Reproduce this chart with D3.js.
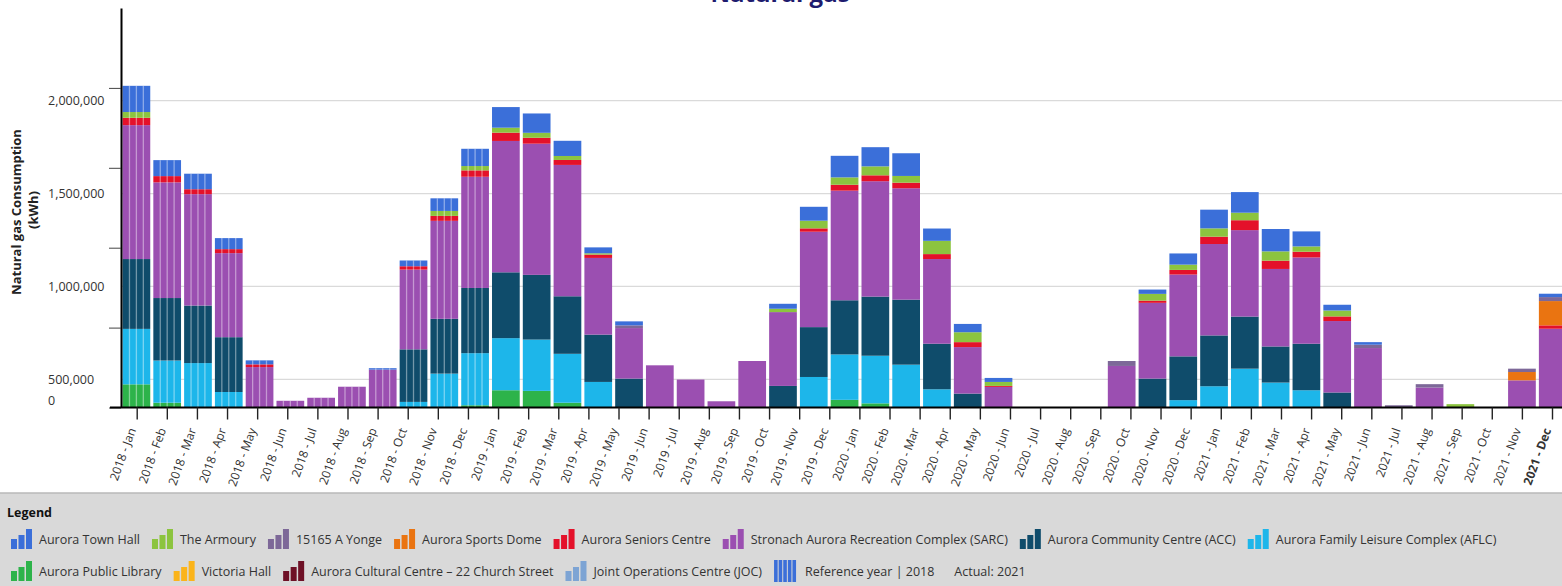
<!DOCTYPE html>
<html>
<head>
<meta charset="utf-8">
<script src="https://cdn.jsdelivr.net/npm/d3@7"></script>
<style>
  html, body { margin: 0; padding: 0; background: #ffffff; overflow: hidden; }
  svg { display: block; font-family: "Open Sans", "Noto Sans", sans-serif; }
</style>
</head>
<body>
<svg id="chart" width="1562" height="586"></svg>
<script>
// ---------------- DATA ----------------
const months = [
  "2018 - Jan","2018 - Feb","2018 - Mar","2018 - Apr","2018 - May","2018 - Jun","2018 - Jul","2018 - Aug","2018 - Sep","2018 - Oct","2018 - Nov","2018 - Dec",
  "2019 - Jan","2019 - Feb","2019 - Mar","2019 - Apr","2019 - May","2019 - Jun","2019 - Jul","2019 - Aug","2019 - Sep","2019 - Oct","2019 - Nov","2019 - Dec",
  "2020 - Jan","2020 - Feb","2020 - Mar","2020 - Apr","2020 - May","2020 - Jun","2020 - Jul","2020 - Aug","2020 - Sep","2020 - Oct","2020 - Nov","2020 - Dec",
  "2021 - Jan","2021 - Feb","2021 - Mar","2021 - Apr","2021 - May","2021 - Jun","2021 - Jul","2021 - Aug","2021 - Sep","2021 - Oct","2021 - Nov","2021 - Dec"
];
const referenceYear = "2018";
const currentLabel = "2021 - Dec";

// kWh per facility, Jan 2018 .. Nov 2021 (Dec 2021 bar lies outside the visible frame)
const auroraTownHall = [164000,100000,97000,69000,25000,0,0,0,9000,36000,79000,108000,
  129000,121000,95000,37000,25000,0,0,0,0,31000,87000,135000,
  120000,142000,77000,52000,25000,0,0,0,0,27000,70000,117000,
  129000,140000,94000,36000,16000,0,0,0,0,0,21000];
const theArmoury = [36000,0,0,0,0,0,0,0,0,0,31000,27000,
  31000,31000,25000,8000,0,0,0,0,0,21000,48000,46000,
  56000,42000,83000,62000,25000,0,0,0,0,42000,33000,52000,
  47000,58000,33000,37000,0,0,0,21000,0,0,0];
const yonge15165 = [0,0,0,0,0,0,0,0,0,0,0,0,
  0,0,0,0,17000,0,0,0,0,0,0,0,
  0,0,0,0,0,0,0,0,31000,0,0,0,
  0,0,0,0,21000,14000,21000,0,0,21000,25000];
const sportsDome = [0,0,0,0,0,0,0,0,0,0,0,0,
  0,0,0,0,0,0,0,0,0,0,0,0,
  0,0,0,0,0,0,0,0,0,0,0,0,
  0,0,0,0,0,0,0,0,0,52000,152000];
const seniorsCentre = [46000,39000,31000,25000,17000,0,0,0,0,21000,31000,40000,
  52000,37000,31000,21000,0,0,0,0,0,0,21000,37000,
  37000,35000,31000,31000,6000,0,0,0,0,14000,29000,46000,
  62000,52000,36000,29000,0,0,0,0,0,0,21000];
const sarc = [838000,724000,697000,526000,253000,42000,61000,130000,237000,499000,613000,696000,
  822000,821000,822000,480000,316000,264000,175000,39000,291000,462000,597000,686000,
  722000,697000,530000,291000,129000,0,0,0,260000,474000,512000,572000,
  541000,485000,540000,447000,372000,0,125000,0,0,170000,493000];
const acc = [437000,391000,360000,343000,0,0,0,0,0,329000,343000,408000,
  412000,405000,360000,296000,181000,0,0,0,0,135000,312000,339000,
  370000,407000,285000,87000,0,0,0,0,0,181000,274000,318000,
  326000,226000,291000,94000,0,0,0,0,0,0,0];
const aflc = [347000,264000,278000,97000,0,0,0,0,0,35000,212000,326000,
  326000,321000,306000,160000,0,0,0,0,0,0,191000,284000,
  298000,268000,114000,0,0,0,0,0,0,0,46000,133000,
  243000,156000,108000,0,0,0,0,0,0,0,0];
const publicLibrary = [145000,30000,0,0,0,0,0,0,0,0,0,14000,
  108000,104000,30000,0,0,0,0,0,0,0,0,48000,
  26000,0,0,0,0,0,0,0,0,0,0,0,
  0,0,0,0,0,0,0,0,0,0,0];

const yTickValues = [0, 500000, 1000000, 1500000, 2000000];

// legend entries in the order shown
const legendRow1 = ["Aurora Town Hall","The Armoury","15165 A Yonge","Aurora Sports Dome","Aurora Seniors Centre","Stronach Aurora Recreation Complex (SARC)","Aurora Community Centre (ACC)","Aurora Family Leisure Complex (AFLC)"];
const legendRow2 = ["Aurora Public Library","Victoria Hall","Aurora Cultural Centre –  22 Church Street","Joint Operations Centre (JOC)"];
const colors = {
  "Aurora Town Hall": "#3b6fd9",
  "The Armoury": "#8cc43f",
  "15165 A Yonge": "#7d6898",
  "Aurora Sports Dome": "#ea7411",
  "Aurora Seniors Centre": "#e4112a",
  "Stronach Aurora Recreation Complex (SARC)": "#9b4fb1",
  "Aurora Community Centre (ACC)": "#0f4c6b",
  "Aurora Family Leisure Complex (AFLC)": "#1db6ea",
  "Aurora Public Library": "#2db34a",
  "Victoria Hall": "#fbb41a",
  "Aurora Cultural Centre –  22 Church Street": "#6e1026",
  "Joint Operations Centre (JOC)": "#7da4d4"
};

// stacking order bottom -> top
const stackSeries = [
  ["Aurora Public Library", publicLibrary],
  ["Aurora Family Leisure Complex (AFLC)", aflc],
  ["Aurora Community Centre (ACC)", acc],
  ["Stronach Aurora Recreation Complex (SARC)", sarc],
  ["Aurora Seniors Centre", seniorsCentre],
  ["Aurora Sports Dome", sportsDome],
  ["The Armoury", theArmoury],
  ["15165 A Yonge", yonge15165],
  ["Aurora Town Hall", auroraTownHall]
];

// ---------------- LAYOUT ----------------
const W = 1562, H = 586;
const plotLeft = 121, baseY = 407.5, topY = 8;
const svg = d3.select("#chart");

const table = sarc.map((_, i) => {
  const row = { month: months[i] };
  stackSeries.forEach(([name, arr]) => row[name] = arr[i]);
  return row;
});
const keys = stackSeries.map(d => d[0]);
const stacked = d3.stack().keys(keys)(table);

const y = d3.scaleLinear().domain([0, 2500000]).range([baseY, topY]);
// label / gridline layer of the dashboard (drawn at its own spacing in the source)
const yLabel = d3.scaleLinear().domain([0, 500000, 2000000]).range([400, 379.3, 100.7]);

const x = d3.scaleBand().domain(months)
  .range([plotLeft, plotLeft + months.length * 30.79])
  .paddingInner(0.1).paddingOuter(0.05);
// category axis layer (ticks + labels)
const xt = d3.scalePoint().domain(months).range([136.7, 1552]);

// title (cropped at the top of the frame, as in the source)
svg.append("text")
  .attr("x", 780).attr("y", 1.5)
  .attr("text-anchor", "middle")
  .attr("font-size", 24).attr("font-weight", 700)
  .attr("fill", "#1e1b6e")
  .text("Natural gas");

// gridlines + y labels
const gridVals = yTickValues.filter(v => v > 0);
svg.append("g").selectAll("line").data(gridVals).join("line")
  .attr("x1", plotLeft).attr("x2", W)
  .attr("y1", d => yLabel(d)).attr("y2", d => yLabel(d))
  .attr("stroke", "#dadada").attr("stroke-width", 1.3);

svg.append("g").selectAll("text").data(yTickValues).join("text")
  .attr("x", 48).attr("y", d => yLabel(d))
  .attr("dominant-baseline", "central")
  .attr("font-size", 12.5).attr("fill", "#333")
  .text(d => d3.format(",")(d));

// y title
const yTitle = svg.append("g").attr("font-size", 13).attr("font-weight", 700).attr("fill", "#222");
yTitle.append("text").attr("transform", "translate(16,212) rotate(-90)")
  .attr("text-anchor", "middle").attr("dy", "0.35em").text("Natural gas Consumption");
yTitle.append("text").attr("transform", "translate(33,210) rotate(-90)")
  .attr("text-anchor", "middle").attr("dy", "0.35em").text("(kWh)");

// bars
const barsG = svg.append("g");
stacked.forEach(layer => {
  barsG.append("g").attr("fill", colors[layer.key])
    .selectAll("rect").data(layer.filter(d => d[1] - d[0] > 0)).join("rect")
    .attr("x", d => x(d.data.month))
    .attr("width", x.bandwidth())
    .attr("y", d => y(d[1]))
    .attr("height", d => y(d[0]) - y(d[1]));
});

// reference-year stripes on 2018 bars
const refRows = table.filter(r => r.month.startsWith(referenceYear));
const stripeG = svg.append("g").attr("stroke", "#ffffff").attr("stroke-opacity", 0.42).attr("stroke-width", 1.3);
refRows.forEach(r => {
  const total = d3.sum(keys, k => r[k]);
  [0.25, 0.5, 0.75].forEach(f => {
    const xx = x(r.month) + x.bandwidth() * f;
    stripeG.append("line").attr("x1", xx).attr("x2", xx)
      .attr("y1", y(total)).attr("y2", y(0));
  });
});

// y axis
const yAxisG = svg.append("g").attr("transform", `translate(${plotLeft},0)`)
  .call(d3.axisLeft(y).tickValues(yTickValues).tickSize(12).tickSizeOuter(0).tickFormat(""));
yAxisG.select(".domain").attr("stroke", "#000").attr("stroke-width", 2);
yAxisG.selectAll(".tick line").attr("stroke", "#444").attr("stroke-width", 1);

// x axis
svg.append("line").attr("x1", 110).attr("x2", W).attr("y1", baseY).attr("y2", baseY)
  .attr("stroke", "#000").attr("stroke-width", 2.2);
const xAxisG = svg.append("g").attr("transform", `translate(0,${baseY})`)
  .call(d3.axisBottom(xt).tickSize(12).tickSizeOuter(0));
xAxisG.select(".domain").remove();
xAxisG.selectAll(".tick line").attr("stroke", "#222").attr("stroke-width", 1.4);
xAxisG.selectAll(".tick text")
  .attr("x", 0).attr("y", 0).attr("dy", "0.35em")
  .attr("transform", "translate(-5,21) rotate(-70)")
  .attr("text-anchor", "end")
  .attr("font-family", "\"Open Sans\", sans-serif")
  .attr("font-size", 12).attr("fill", "#333")
  .attr("font-weight", d => d === currentLabel ? 700 : 400);

// legend panel
svg.append("rect").attr("x", 0).attr("y", 493).attr("width", W).attr("height", H - 493).attr("fill", "#d9d9d9");
svg.append("line").attr("x1", 0).attr("x2", W).attr("y1", 493).attr("y2", 493).attr("stroke", "#b8b8b8").attr("stroke-width", 1.5);
svg.append("text").attr("x", 7).attr("y", 517).attr("font-size", 12.5).attr("font-weight", 700).attr("fill", "#111").text("Legend");

function barIcon(g, x0, cy, color) {
  const hs = [10, 14, 20];
  hs.forEach((h, i) => {
    g.append("rect").attr("x", x0 + i * 7.5).attr("y", cy + 10 - h).attr("width", 6).attr("height", h).attr("fill", color);
  });
  return 21;
}
function stripeIcon(g, x0, cy, color) {
  for (let i = 0; i < 5; i++) {
    g.append("rect").attr("x", x0 + i * 4.6).attr("y", cy - 11).attr("width", 3.6).attr("height", 22).attr("fill", color);
  }
  return 22;
}
function legendText(g, x0, cy, label) {
  const t = g.append("text").attr("x", x0).attr("y", cy).attr("dominant-baseline", "central")
    .attr("font-size", 12.5).attr("fill", "#333").text(label);
  return t.node().getComputedTextLength();
}
function drawRow(items, cy) {
  const g = svg.append("g");
  let cx = 11;
  items.forEach(it => {
    if (it.type === "bar") cx += barIcon(g, cx, cy, colors[it.name]) + 7;
    else if (it.type === "stripe") cx += stripeIcon(g, cx, cy, colors["Aurora Town Hall"]) + 9;
    cx += legendText(g, cx, cy, it.name) + (it.type === "stripe" ? 20 : 12);
  });
}
drawRow(legendRow1.map(n => ({ type: "bar", name: n })), 539);
drawRow(legendRow2.map(n => ({ type: "bar", name: n }))
  .concat([{ type: "stripe", name: "Reference year | " + referenceYear }, { type: "text", name: "Actual: 2021" }]), 571);
</script>
</body>
</html>
